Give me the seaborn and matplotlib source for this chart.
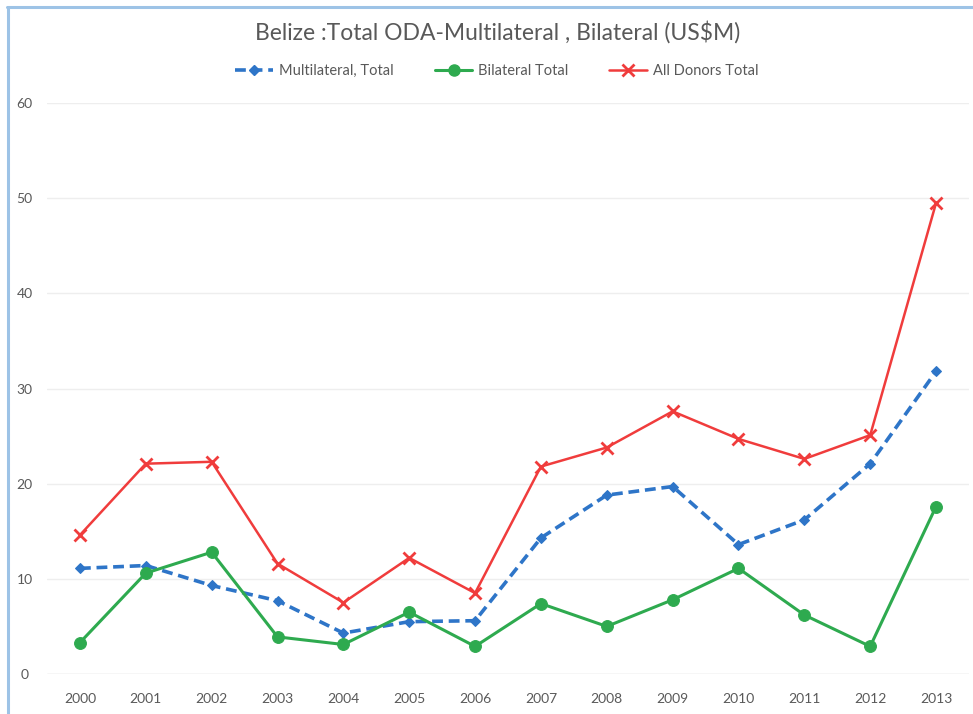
import numpy as np
import pandas as pd
import matplotlib.pyplot as plt
import seaborn as sns
from matplotlib.lines import Line2D

# values (US$M)
years = [2000, 2001, 2002, 2003, 2004, 2005, 2006, 2007, 2008, 2009, 2010, 2011, 2012, 2013]
multilateral = [11.1, 11.4, 9.3, 7.7, 4.3, 5.5, 5.6, 14.3, 18.8, 19.7, 13.6, 16.2, 22.1, 31.8]
bilateral = [3.3, 10.6, 12.8, 3.9, 3.1, 6.5, 2.9, 7.4, 5.0, 7.8, 11.1, 6.2, 2.9, 17.6]
all_donors = [14.6, 22.1, 22.3, 11.6, 7.5, 12.2, 8.5, 21.8, 23.8, 27.6, 24.7, 22.6, 25.1, 49.5]
y_ticks = [0, 10, 20, 30, 40, 50, 60]

sns.set_theme(style="white")
plt.rcParams['font.family'] = ['Lato', 'DejaVu Sans']

fig = plt.figure(figsize=(9.73, 7.14), dpi=100)
ax = fig.add_axes([47 / 973, 40 / 714, 922 / 973, 571 / 714])

pos = np.arange(len(years))
blue, green, red = '#2e75c8', '#2eaa4f', '#f03c3c'

sns.lineplot(x=pos, y=multilateral, ax=ax, color=blue, linewidth=2.6,
             linestyle=(0, (3, 1.6)), marker='D', markersize=5,
             markeredgecolor=blue)
sns.lineplot(x=pos, y=bilateral, ax=ax, color=green, linewidth=2.2,
             marker='o', markersize=8.5, markeredgecolor=green)
sns.lineplot(x=pos, y=all_donors, ax=ax, color=red, linewidth=1.8,
             marker='x', markersize=9, markeredgewidth=2, markeredgecolor=red)

ax.set_xlim(-0.5, len(years) - 0.5)
ax.set_ylim(0, 60)
ax.set_xticks(pos)
ax.set_xticklabels(years)
ax.set_yticks(y_ticks)
ax.tick_params(axis='both', colors='#595959', labelsize=10, length=0)
ax.tick_params(axis='x', pad=14)
ax.tick_params(axis='y', pad=16)
for lbl in ax.get_yticklabels():
    lbl.set_horizontalalignment('center')
ax.yaxis.grid(True, color='#eeeeee', linewidth=1)
ax.set_axisbelow(True)
sns.despine(ax=ax, left=True, bottom=True, top=True, right=True)
ax.axhline(0, color='#e2e2e2', linewidth=1, zorder=0)

fig.text(498 / 973, 1 - 32 / 714, 'Belize :Total ODA-Multilateral , Bilateral (US$M)',
         ha='center', va='center', fontsize=16.5, color='#595959')

handles = [
    Line2D([], [], color=blue, linewidth=2.6, linestyle=(0, (3, 1.6)), marker='D', markersize=5),
    Line2D([], [], color=green, linewidth=2.2, marker='o', markersize=8),
    Line2D([], [], color=red, linewidth=1.8, marker='x', markersize=8, markeredgewidth=2),
]
fig.legend(handles, ['Multilateral, Total', 'Bilateral Total', 'All Donors Total'],
           loc='center', bbox_to_anchor=(497 / 973, 1 - 71 / 714), ncol=3,
           frameon=False, fontsize=10.5, labelcolor='#595959', handlelength=2.6,
           columnspacing=2.8, handletextpad=0.4)

# light blue frame on the left and top, as in the source screenshot
fig.add_artist(Line2D([7.5 / 973, 7.5 / 973], [0, 1 - 6.5 / 714], color='#9dc3e6', linewidth=2.2,
                      transform=fig.transFigure))
fig.add_artist(Line2D([6.5 / 973, 1], [1 - 6.5 / 714, 1 - 6.5 / 714], color='#9dc3e6', linewidth=2.2,
                      transform=fig.transFigure))

fig.savefig('out.png', dpi=100)
